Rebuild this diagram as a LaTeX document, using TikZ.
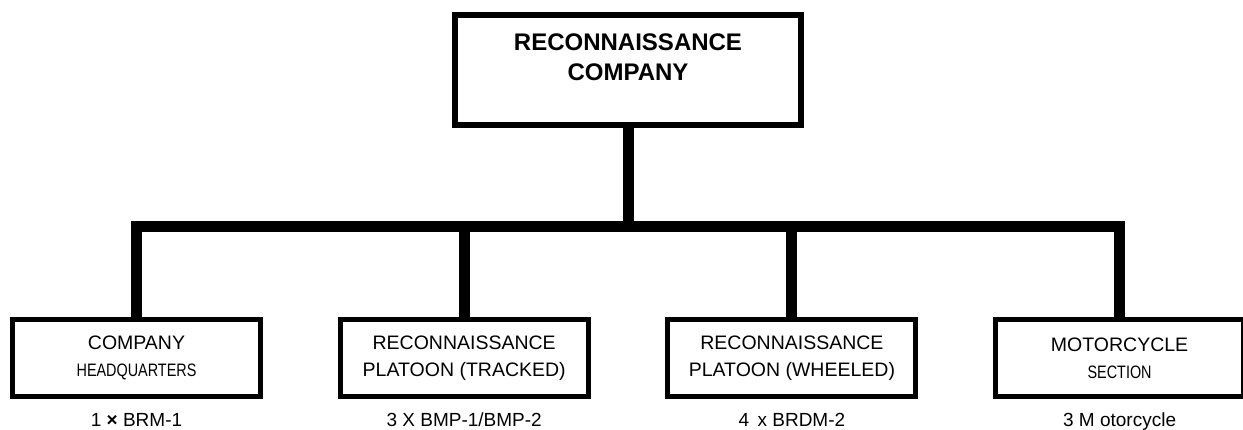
\documentclass[tikz,border=0pt]{standalone}
\usepackage{fontspec}
\setmainfont{Liberation Sans}
\newfontfamily\narrowfont[FakeStretch=0.8]{Liberation Sans}
\usetikzlibrary{positioning}

\newcommand{\subline}[1]{{\narrowfont\fontsize{18}{27}\selectfont #1}}

\begin{document}
\begin{tikzpicture}[
        x=1pt, y=1pt,
        topunit/.style={draw, line width=6pt, minimum width=346pt, minimum height=110pt,
            inner sep=0pt, align=center, text depth=26pt,
            font=\bfseries\fontsize{24}{30}\selectfont},
        unit/.style={draw, line width=5pt, minimum width=248pt, minimum height=77pt,
            inner sep=0pt, align=center, font=\fontsize{19.5}{27}\selectfont},
        caption/.style={inner sep=0pt, text height=14pt, text depth=4pt,
            font=\fontsize{19}{22}\selectfont},
        link/.style={line width=11pt},
        node distance=74.7pt
    ]
        \useasboundingbox (0,0) rectangle (1243,-429);

        \node[topunit] (rc) at (628,-70) {RECONNAISSANCE\\COMPANY};

        \node[unit] (hq) at (136.5,-358) {COMPANY\\\subline{HEADQUARTERS}};
        \node[unit, right=of hq] (rpt) {RECONNAISSANCE\\PLATOON (TRACKED)};
        \node[unit, right=of rpt] (rpw) {RECONNAISSANCE\\PLATOON (WHEELED)};
        \node[unit, right=of rpw] (mcs) {MOTORCYCLE\\\subline{SECTION}};

        \node[caption, below=13pt of hq] (hqcap) {1 \textbf{×} BRM-1};
        \node[caption, below=13pt of rpt] (rptcap) {3 X BMP-1/BMP-2};
        \node[caption, below=13pt of rpw] (rpwcap) {4 \,x BRDM-2};
        \node[caption, below=13pt of mcs] (mcscap) {3 M otorcycle};

        \coordinate[below=98pt of rc] (fork);
        \draw[link] (rc) -- (fork);
        \draw[link] (fork) -| (hq);
        \draw[link] (fork) -| (rpt);
        \draw[link] (fork) -| (rpw);
        \draw[link] (fork) -| (mcs);
    \end{tikzpicture}
\end{document}
